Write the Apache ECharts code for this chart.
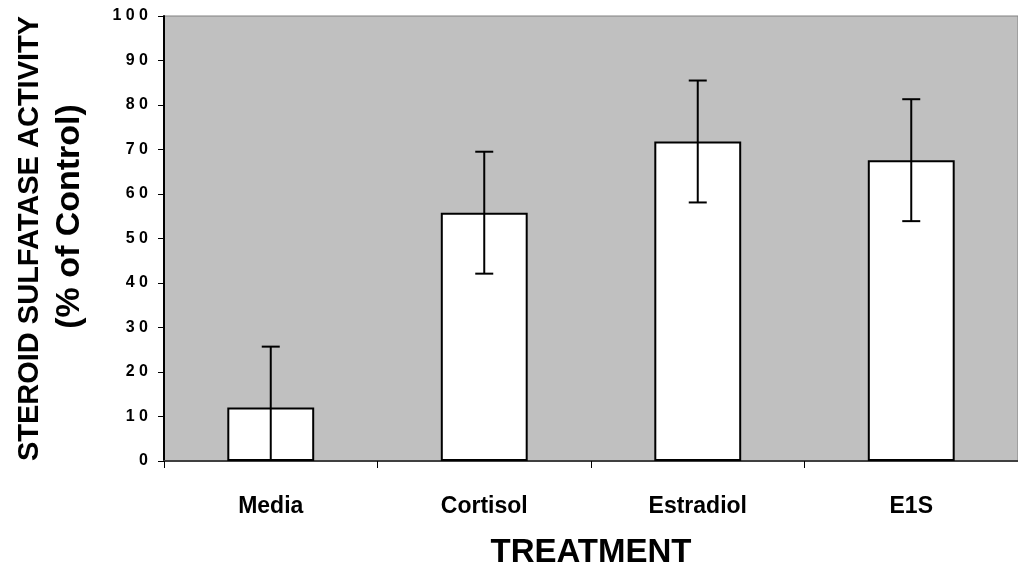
<!DOCTYPE html>
<html>
<head>
<meta charset="utf-8">
<script src="https://cdn.jsdelivr.net/npm/echarts@6/dist/echarts.min.js"></script>
<style>
html,body{margin:0;padding:0;background:#fff;}
#chart{width:1018px;height:569px;}
</style>
</head>
<body>
<div id="chart"></div>
<script>
var categories = ['Media', 'Cortisol', 'Estradiol', 'E1S'];
var activity = [12.0, 55.8, 71.8, 67.6];
var sem = [13.7, 13.7, 13.7, 13.7];
var yTicks = ['0', '10', '20', '30', '40', '50', '60', '70', '80', '90', '100'];
var xTitle = 'TREATMENT';
var yTitle = ['STEROID SULFATASE ACTIVITY', '(% of Control)'];

var font = '"Liberation Sans", Arial, sans-serif';
var chart = echarts.init(document.getElementById('chart'));

var errData = categories.map(function (c, i) {
  return [i, activity[i] - sem[i], activity[i] + sem[i]];
});

chart.setOption({
  animation: false,
  grid: {
    left: 164, top: 16, right: 0, bottom: 108,
    outerBoundsMode: 'none',
    containLabel: false,
    show: true, backgroundColor: '#C0C0C0', borderColor: '#808080', borderWidth: 1
  },
  xAxis: {
    type: 'category',
    data: categories,
    name: xTitle,
    nameLocation: 'middle',
    nameGap: 75,
    nameTextStyle: { fontFamily: font, fontWeight: 'bold', fontSize: 33, color: '#000' },
    axisLine: { show: true, lineStyle: { color: '#404040', width: 2 } },
    axisTick: { show: true, length: 7, lineStyle: { color: '#000', width: 1 } },
    axisLabel: { fontFamily: font, fontWeight: 'bold', fontSize: 23, color: '#000', margin: 34 },
    splitLine: { show: false }
  },
  yAxis: {
    type: 'value',
    min: 0, max: 100, interval: 10,
    name: '{a|' + yTitle[0] + '}\n{b|' + yTitle[1] + '}',
    nameLocation: 'middle',
    nameGap: 74,
    nameRotate: 90,
    nameTextStyle: {
      fontFamily: font, fontWeight: 'bold', color: '#000',
      rich: {
        a: { fontFamily: font, fontWeight: 'bold', fontSize: 29, lineHeight: 40, color: '#000' },
        b: { fontFamily: font, fontWeight: 'bold', fontSize: 34, lineHeight: 40, color: '#000', padding: [0, 0, 0, 44] }
      }
    },
    axisLine: { show: true, lineStyle: { color: '#000', width: 2 } },
    axisTick: { show: true, length: 6, lineStyle: { color: '#000', width: 1 } },
    axisLabel: {
      fontFamily: font, fontWeight: 'bold', fontSize: 16, color: '#000', margin: 16,
      formatter: function (v) {
        var s = yTicks[Math.round(v / 10)] || String(v);
        return s.split('').join(' ');
      }
    },
    splitLine: { show: false }
  },
  series: [
    {
      type: 'bar',
      data: activity,
      barWidth: '40.7%',
      itemStyle: { color: '#fff', borderColor: '#000', borderWidth: 2 },
      z: 2
    },
    {
      type: 'custom',
      data: errData,
      clip: true,
      z: 3,
      renderItem: function (params, api) {
        var x = api.value(0);
        var lo = api.coord([x, api.value(1)]);
        var hi = api.coord([x, api.value(2)]);
        var hw = 9;
        var style = { stroke: '#000', lineWidth: 2 };
        return {
          type: 'group',
          children: [
            { type: 'line', shape: { x1: hi[0], y1: hi[1], x2: lo[0], y2: lo[1] }, style: style },
            { type: 'line', shape: { x1: hi[0] - hw, y1: hi[1], x2: hi[0] + hw, y2: hi[1] }, style: style },
            { type: 'line', shape: { x1: lo[0] - hw, y1: lo[1], x2: lo[0] + hw, y2: lo[1] }, style: style }
          ]
        };
      }
    }
  ]
});
</script>
</body>
</html>
